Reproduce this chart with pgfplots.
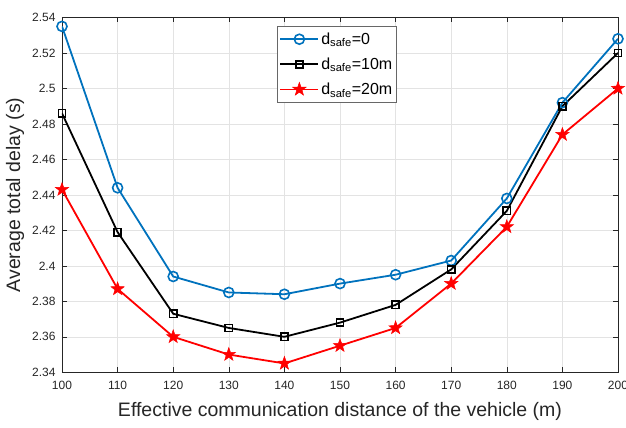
\documentclass[border=0pt]{standalone}
\usepackage{fontspec}
\setmainfont{Liberation Sans}
\usepackage{pgfplots}
\pgfplotsset{compat=1.18}
\definecolor{mblue}{rgb}{0,0.447,0.741}
\definecolor{axgray}{rgb}{0.15,0.15,0.15}
% filled five-pointed star, like MATLAB's pentagram
\pgfdeclareplotmark{fstar}{%
    \pgfpathmoveto{\pgfpointpolar{90}{\pgfplotmarksize}}%
    \pgfpathlineto{\pgfpointpolar{126}{0.4\pgfplotmarksize}}%
    \pgfpathlineto{\pgfpointpolar{162}{\pgfplotmarksize}}%
    \pgfpathlineto{\pgfpointpolar{198}{0.4\pgfplotmarksize}}%
    \pgfpathlineto{\pgfpointpolar{234}{\pgfplotmarksize}}%
    \pgfpathlineto{\pgfpointpolar{270}{0.4\pgfplotmarksize}}%
    \pgfpathlineto{\pgfpointpolar{306}{\pgfplotmarksize}}%
    \pgfpathlineto{\pgfpointpolar{342}{0.4\pgfplotmarksize}}%
    \pgfpathlineto{\pgfpointpolar{18}{\pgfplotmarksize}}%
    \pgfpathlineto{\pgfpointpolar{54}{0.4\pgfplotmarksize}}%
    \pgfpathclose
    \pgfusepathqfillstroke
}
\begin{document}
\begin{tikzpicture}
\begin{axis}[
    at={(62pt,55.7pt)}, anchor=south west,
    scale only axis,
    width=556pt, height=354.8pt,
    xmin=100, xmax=200, ymin=2.34, ymax=2.54,
    xtick={100,110,...,200},
    ytick={2.34,2.36,...,2.541},
    /pgf/number format/assume math mode=true,
    yticklabel style={/pgf/number format/precision=2, xshift=-3pt},
    xticklabel style={yshift=-5pt},
    tick label style={font=\fontsize{12}{14}\selectfont, text=axgray},
    label style={font=\fontsize{19.5}{22}\selectfont, text=axgray},
    xlabel={Effective communication distance of the vehicle (m)},
    ylabel={Average total delay (s)},
    xlabel style={yshift=-6pt},
    ylabel style={yshift=1pt},
    axis line style={axgray, line width=0.6pt},
    tick style={axgray, line width=0.6pt},
    major tick length=5pt,
    tick align=inside,
    grid=major,
    grid style={gray!22, line width=0.6pt},
    legend style={at={(0.387,0.975)}, anchor=north west,
        font=\fontsize{16}{18}\selectfont, draw=axgray!70, line width=0.6pt,
        row sep=8pt, inner xsep=2pt, inner ysep=4pt},
    legend cell align=left,
    legend image code/.code={
        \draw[mark repeat=2, mark phase=2, #1]
            plot coordinates {(0pt,0pt) (19pt,0pt) (38pt,0pt)};
    },
]
\addplot[color=mblue, line width=1.8pt, mark=o, mark size=5pt,
    mark options={line width=1.6pt}] coordinates {
    (100,2.535) (110,2.444) (120,2.394) (130,2.385) (140,2.384) (150,2.390)
    (160,2.395) (170,2.403) (180,2.438) (190,2.492) (200,2.528)};
\addlegendentry{d\textsubscript{safe}=0}
\addplot[color=black, line width=1.8pt, mark=square, mark size=3.6pt,
    mark options={line width=1.6pt}] coordinates {
    (100,2.486) (110,2.419) (120,2.373) (130,2.365) (140,2.360) (150,2.368)
    (160,2.378) (170,2.398) (180,2.431) (190,2.490) (200,2.520)};
\addlegendentry{d\textsubscript{safe}=10m}
\addplot[color=red, line width=1.8pt, mark=fstar, mark size=7pt,
    mark options={fill=red, line width=0.5pt}] coordinates {
    (100,2.443) (110,2.387) (120,2.360) (130,2.350) (140,2.345) (150,2.355)
    (160,2.365) (170,2.390) (180,2.422) (190,2.474) (200,2.500)};
\addlegendentry{d\textsubscript{safe}=20m}
\node[anchor=south west, inner sep=0pt, yshift=1pt, text=axgray,
    font=\fontsize{12}{14}\selectfont] at (rel axis cs:0,1) {×10\textsuperscript{-3}};
\end{axis}
\pgfresetboundingbox
\path[use as bounding box] (0pt,0pt) rectangle (626pt,428pt);
\end{tikzpicture}
\end{document}
